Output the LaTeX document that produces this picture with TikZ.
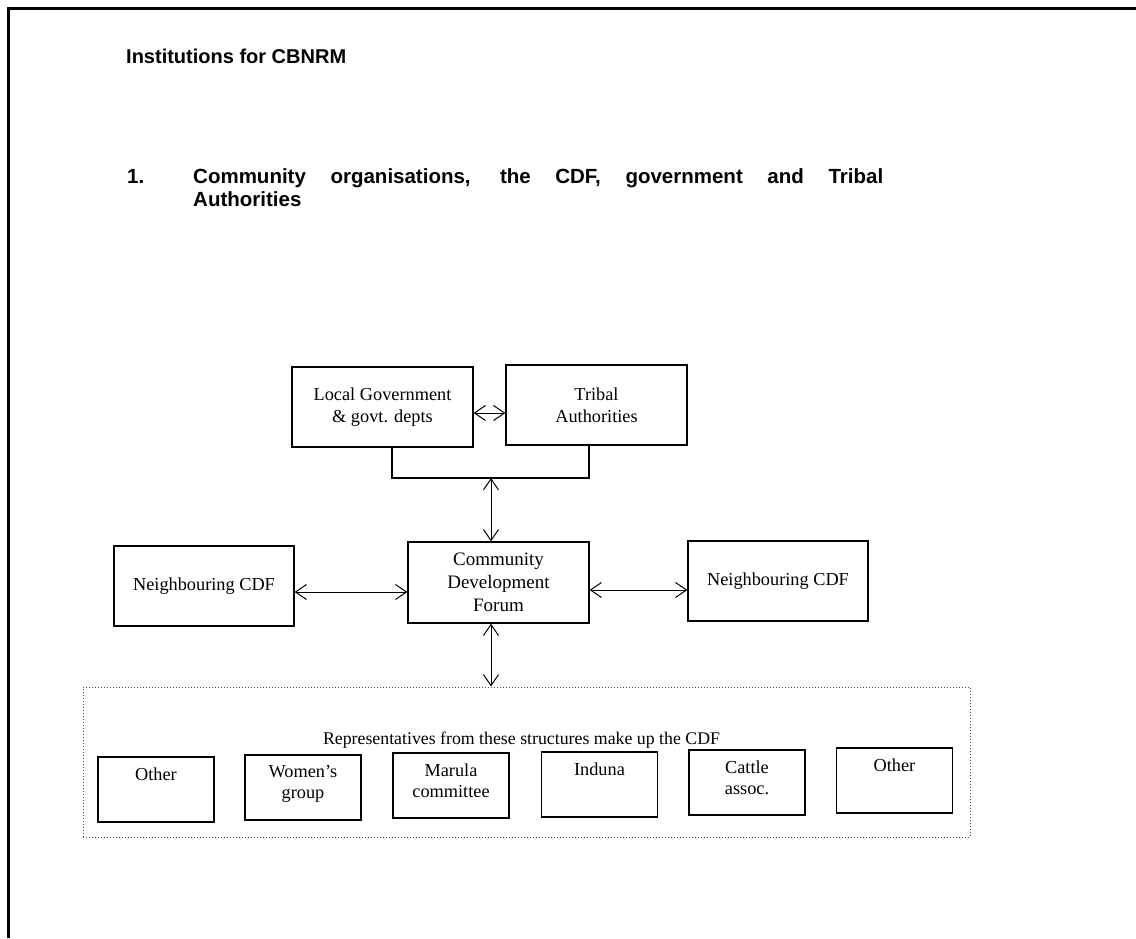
\documentclass[tikz,border=0pt]{standalone}
\usepackage{fontspec}
\setmainfont{Liberation Serif}
\newfontfamily\hdfont{Liberation Sans}
\usetikzlibrary{arrows.meta}
\begin{document}
\begin{tikzpicture}[x=1pt,y=-1pt,
  boxtext/.style={font=\fontsize{18.3}{22}\selectfont, align=center},
  bigbox/.style={draw, line width=1.2pt, inner sep=0pt, boxtext},
  smallbox/.style={draw, line width=1.2pt, inner sep=0pt, minimum width=116pt, minimum height=65pt},
  smalltext/.style={anchor=north, inner sep=0pt, yshift=-11pt, align=center, font=\fontsize{18.3}{21}\selectfont},
  arr/.style={{Straight Barb[length=11pt,width=15pt]}-{Straight Barb[length=11pt,width=15pt]}, line width=1pt},
  headtext/.style={anchor=base west, inner sep=0pt, font=\hdfont\bfseries\fontsize{20.5}{24}\selectfont},
]
\useasboundingbox (0,0) rectangle (1136,938);
\fill[white] (0,0) rectangle (1136,938);
% frame
\draw[line width=3pt] (8,938) -- (8,8) -- (1136,8);

% headings
\node[headtext, font=\hdfont\bfseries\fontsize{20}{24}\selectfont] (title) at (126,63) {Institutions for CBNRM};
\node[headtext] (num) at (127,183) {1.};
\node[headtext] (head1) at (193,183) {\makebox[690pt][s]{Community organisations, the CDF, government and Tribal}};
\node[headtext] (head2) at (193,206) {Authorities};

% top boxes
\node[bigbox, minimum width=181pt, minimum height=80pt] (lg) at (382.5,407) {Local Government\\\& govt. depts};
\node[bigbox, minimum width=181pt, minimum height=80pt] (ta) at (596.5,405) {Tribal\\Authorities};
\coordinate (b1) at (392,478);
\coordinate (b2) at (589,478);
\coordinate (bm) at (491,478);
\draw[line width=1.2pt] (b1 |- lg.south) -- (b1) -- (b2) -- (b2 |- ta.south);
\draw[arr] (lg.east |- 0,413) -- (ta.west |- 0,413);

% middle row
\node[bigbox, minimum width=181pt, minimum height=81pt, font=\fontsize{19}{23}\selectfont] (cdf) at (498.5,582.5) {Community\\Development\\Forum};
\node[bigbox, minimum width=180pt, minimum height=80pt] (nbl) at (204,586) {Neighbouring CDF};
\node[bigbox, minimum width=180pt, minimum height=80pt] (nbr) at (778,581) {Neighbouring CDF};
\draw[arr] (bm) -- (bm |- cdf.north);
\draw[arr] (nbl.east |- 0,592) -- (cdf.west |- 0,592);
\draw[arr] (cdf.east |- 0,590) -- (nbr.west |- 0,590);

% bottom group
\node[draw=black!70, dotted, line width=1pt, minimum width=887pt, minimum height=150pt, inner sep=0pt,
      label={[anchor=base, inner sep=0pt, yshift=-58pt, xshift=-5pt, font=\fontsize{17.8}{21}\selectfont]north:Representatives from these structures make up the CDF}] (rep) at (526.5,762) {};
\draw[arr] (bm |- cdf.south) -- (bm |- rep.north);

\node[smallbox, label={[smalltext]north:Other}] (o1) at (156,789.5) {};
\node[smallbox, label={[smalltext]north:Women's\\group}] (wg) at (303,787.5) {};
\node[smallbox, label={[smalltext]north:Marula\\committee}] (mc) at (451,785.5) {};
\node[smallbox, label={[smalltext]north:Induna}] (in) at (599.5,784.5) {};
\node[smallbox, label={[smalltext]north:Cattle\\assoc.}] (ca) at (747,782.5) {};
\node[smallbox, label={[smalltext]north:Other}] (o2) at (894.5,780.5) {};
\end{tikzpicture}
\end{document}
